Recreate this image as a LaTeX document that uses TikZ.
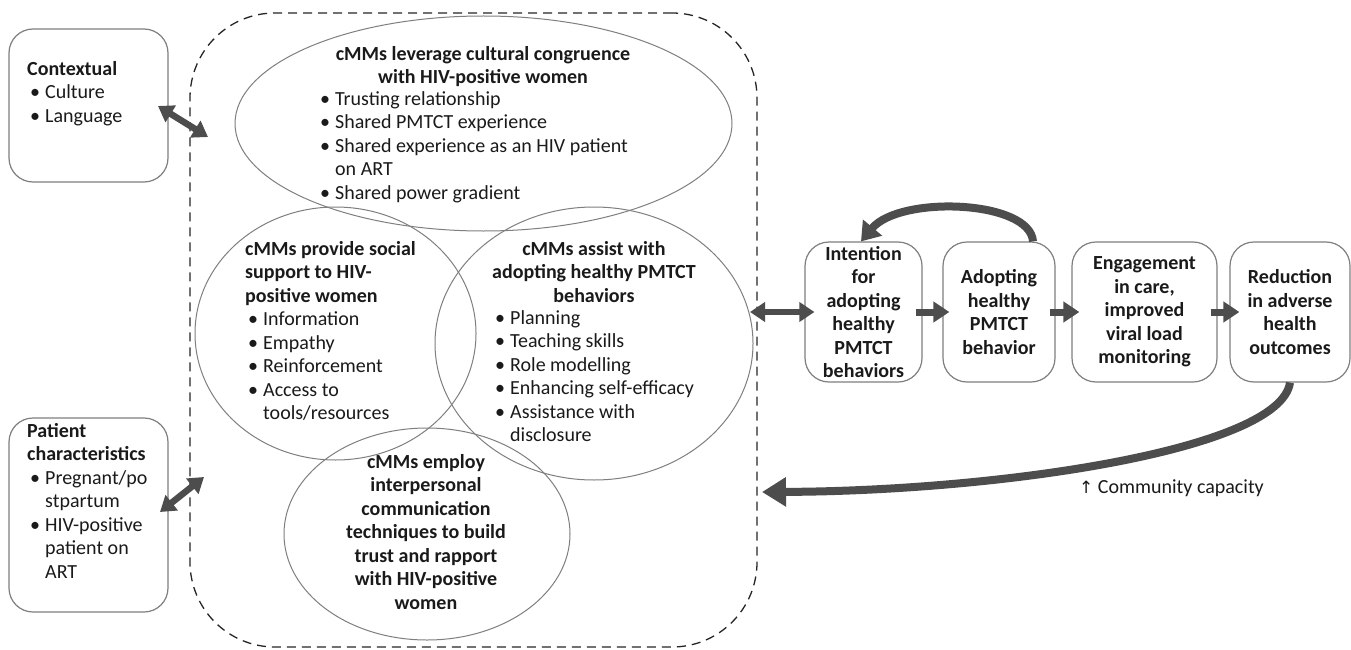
\documentclass[tikz,border=0pt]{standalone}
\usepackage{fontspec}
\setmainfont{Carlito}
\newfontfamily\symfont{DejaVu Sans}
\usetikzlibrary{arrows.meta,shapes.geometric}
\definecolor{arrgray}{HTML}{4D4D4D}
\definecolor{edgegray}{HTML}{7F7F7F}
\definecolor{txtcol}{HTML}{1A1A1A}
\newcommand{\bu}{\makebox[15pt][l]{\textbullet}}
\newcommand{\bi}{\hspace*{15pt}}
\begin{document}
\begin{tikzpicture}[x=1pt, y=-1pt,
  every node/.style={inner sep=0pt, text=txtcol, font=\fontsize{20}{23.5}\selectfont},
  txt/.style={align=left, anchor=north west},
  ctxt/.style={align=center, anchor=north, font=\fontsize{20}{23.5}\selectfont\bfseries},
  sbox/.style={draw=edgegray, line width=1.2pt, rounded corners=24pt},
  fbox/.style={sbox, align=center, minimum height=140pt, font=\fontsize{20}{23.5}\selectfont\bfseries},
  oval/.style={ellipse, draw=edgegray, line width=1pt},
  fat/.style={draw=arrgray, line width=7pt, -{Triangle[width=20pt,length=16pt]}},
  fatboth/.style={draw=arrgray, line width=6.5pt, {Triangle[width=19pt,length=15pt]}-{Triangle[width=19pt,length=15pt]}},
  curvy/.style={draw=arrgray, line width=8pt},
]
\fill[white] (0,0) rectangle (1351,650);
\useasboundingbox (0,0) rectangle (1351,650);

% dashed frame
\node[draw=black!85, line width=1.3pt, dash pattern=on 9pt off 6pt, rounded corners=85pt,
      minimum width=567pt, minimum height=634pt] (frame) at (473.5,330) {};

% left boxes
\node[sbox, minimum width=159pt, minimum height=153pt] (ctx) at (88.5,105.5) {};
\node[txt] (ctxtext) at (27,61) {\textbf{Contextual}\\\hspace*{3pt}\bu Culture\\\hspace*{3pt}\bu Language};

\node[sbox, minimum width=159pt, minimum height=194pt] (pat) at (88.5,515) {};
\node[txt] (pattext) at (27,423) {\textbf{Patient}\\\textbf{characteristics}\\\hspace*{3pt}\bu Pregnant/po\\\hspace*{3pt}\bi stpartum\\\hspace*{3pt}\bu HIV-positive\\\hspace*{3pt}\bi patient on\\\hspace*{3pt}\bi ART};

% ellipses
\node[oval, minimum width=497pt, minimum height=215pt] (cong) at (483.5,123.5) {};
\node[oval, minimum width=281pt, minimum height=253pt] (supp) at (335.5,333.5) {};
\node[oval, minimum width=318pt, minimum height=273pt] (assist) at (594,343.5) {};
\node[oval, minimum width=286pt, minimum height=212pt] (comm) at (427,534) {};

% ellipse texts
\node[ctxt] (congt) at (483,46) {cMMs leverage cultural congruence\\with HIV-positive women};
\node[txt] (congl) at (320,91) {\bu Trusting relationship\\\bu Shared PMTCT experience\\\bu Shared experience as an HIV patient\\\bi on ART\\\bu Shared power gradient};

\node[txt] (suppt) at (245,241) {\textbf{cMMs provide social}\\\textbf{support to HIV-}\\\textbf{positive women}\\\hspace*{3pt}\bu Information\\\hspace*{3pt}\bu Empathy\\\hspace*{3pt}\bu Reinforcement\\\hspace*{3pt}\bu Access to\\\hspace*{3pt}\bi tools/resources};

\node[ctxt] (assistt) at (594,241) {cMMs assist with\\adopting healthy PMTCT\\behaviors};
\node[txt] (assistl) at (495,310) {\bu Planning\\\bu Teaching skills\\\bu Role modelling\\\bu Enhancing self-efficacy\\\bu Assistance with\\\bi disclosure};

\node[ctxt] (commt) at (426,454) {cMMs employ\\interpersonal\\communication\\techniques to build\\trust and rapport\\with HIV-positive\\women};

% right boxes
\node[fbox, minimum width=117pt] (intent) at (863.5,312) {Intention\\for\\adopting\\healthy\\PMTCT\\behaviors};
\node[fbox, minimum width=112pt] (adopt) at (999,312) {Adopting\\healthy\\PMTCT\\behavior};
\node[fbox, minimum width=145pt] (engage) at (1144.5,312) {Engagement\\in care,\\improved\\viral load\\monitoring};
\node[fbox, minimum width=120pt] (reduce) at (1290,312) {Reduction\\in adverse\\health\\outcomes};

% arrows
\coordinate (ctxA) at (158,106);
\coordinate (ctxB) at (208,137);
\draw[fatboth] (ctxA) -- (ctxB);
\coordinate (patA) at (160,512);
\coordinate (patB) at (204,477);
\draw[fatboth] (patA) -- (patB);
\coordinate (asE) at (750,312);
\draw[fatboth] (asE) -- ([xshift=10pt]intent.west);
\draw[fat] ([xshift=-7pt]intent.east) -- ([xshift=7pt]adopt.west);
\draw[fat] ([xshift=-6pt]adopt.east) -- ([xshift=8pt]engage.west);
\draw[fat] ([xshift=-7pt]engage.east) -- ([xshift=10pt]reduce.west);

\draw[curvy, -{Triangle[width=24pt,length=18pt]}] ([xshift=34pt]adopt.north) .. controls (1030,200) and (900,195) .. ([xshift=-2.5pt]intent.north);

\coordinate (bigTip) at (762,492);
\draw[curvy, -{Triangle[width=28pt,length=24pt]}] (reduce.south) .. controls (1280,450) and (1000,491) .. (bigTip);

\node[anchor=west] (cap) at (1079,488) {{\symfont\fontsize{17}{20}\selectfont ↑} Community capacity};
\end{tikzpicture}
\end{document}
